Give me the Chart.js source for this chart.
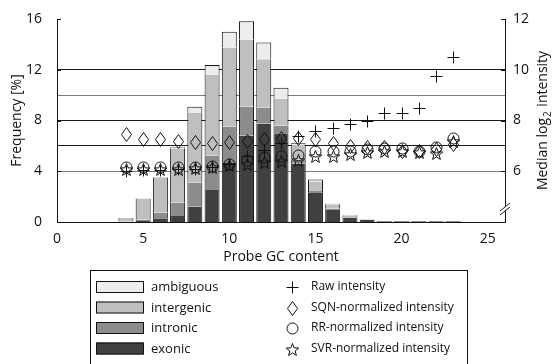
<!DOCTYPE html>
<html>
<head>
<meta charset="utf-8">
<script src="https://cdn.jsdelivr.net/npm/chart.js@4.4.0/dist/chart.umd.min.js"></script>
<style>
  html, body { margin: 0; padding: 0; background: #fff; }
  #wrap { width: 555px; height: 364px; }
</style>
</head>
<body>
<div id="wrap"><canvas id="gcChart" width="555" height="364"></canvas></div>
<script>
/* ---------- Data ---------- */
const gcContent = [4, 5, 6, 7, 8, 9, 10, 11, 12, 13, 14, 15, 16, 17, 18, 19, 20, 21, 22, 23];

// Frequency [%], stacked bottom -> top
const exonic     = [0.02, 0.08, 0.29, 0.48, 1.21, 2.53, 4.65, 6.80, 7.76, 7.00, 4.60, 2.35, 1.00, 0.35, 0.18, 0.06, 0.06, 0.06, 0.06, 0.06];
const intronic   = [0.02, 0.12, 0.45, 1.05, 1.90, 2.70, 2.85, 2.28, 1.24, 0.60, 0.30, 0.10, 0.05, 0.02, 0.01, 0, 0, 0, 0, 0];
const intergenic = [0.28, 1.65, 2.76, 4.27, 5.49, 6.36, 6.26, 5.28, 3.83, 2.12, 1.20, 0.70, 0.30, 0.13, 0.01, 0.005, 0.005, 0.005, 0.005, 0.005];
const ambiguous  = [0.02, 0.03, 0.04, 0.09, 0.48, 0.79, 1.23, 1.46, 1.32, 0.87, 0.10, 0.20, 0.08, 0.05, 0.01, 0.005, 0.005, 0.005, 0.005, 0.005];

// Median log2 intensity
const rawIntensity = [6.00, 6.05, 6.05, 6.10, 6.10, 6.15, 6.30, 6.60, 6.85, 7.10, 7.40, 7.60, 7.70, 7.85, 8.00, 8.30, 8.30, 8.50, 9.75, 10.50];
const sqnIntensity = [7.46, 7.29, 7.29, 7.20, 7.16, 7.13, 7.16, 7.20, 7.26, 7.33, 7.33, 7.26, 7.13, 7.00, 6.94, 6.94, 6.80, 6.80, 6.87, 7.07];
const rrIntensity  = [6.15, 6.15, 6.15, 6.15, 6.15, 6.19, 6.30, 6.45, 6.55, 6.60, 6.65, 6.80, 6.80, 6.80, 6.87, 6.90, 6.90, 6.80, 6.95, 7.33];
const svrIntensity = [6.08, 6.10, 6.10, 6.10, 6.12, 6.15, 6.25, 6.30, 6.35, 6.40, 6.45, 6.60, 6.62, 6.68, 6.75, 6.80, 6.80, 6.75, 6.72, 7.20];

const xTicks = [0, 5, 10, 15, 20, 25];
const freqTicks = [0, 4, 8, 12, 16];
const intensityTicks = [6, 8, 10, 12];

const FONT = "'Open Sans', sans-serif";
const INK = '#111';

/* ---------- Marker drawing (vector, crisp) ---------- */
function drawMarker(ctx, kind, x, y) {
  x = Math.round(x) + 0.5;
  y = Math.round(y) + 0.5;
  ctx.save();
  ctx.strokeStyle = INK;
  ctx.lineWidth = 1;
  ctx.beginPath();
  if (kind === 'cross') {
    ctx.moveTo(x - 6, y); ctx.lineTo(x + 6, y);
    ctx.moveTo(x, y - 6); ctx.lineTo(x, y + 6);
  } else if (kind === 'diamond') {
    ctx.moveTo(x, y - 7); ctx.lineTo(x + 5, y); ctx.lineTo(x, y + 7); ctx.lineTo(x - 5, y);
    ctx.closePath();
  } else if (kind === 'circle') {
    ctx.arc(x, y, 5.5, 0, Math.PI * 2);
  } else if (kind === 'star') {
    for (let i = 0; i < 10; i++) {
      const r = i % 2 ? 2.8 : 6.6;
      const a = -Math.PI / 2 + i * Math.PI / 5;
      const px = x + r * Math.cos(a), py = y + 0.6 + r * Math.sin(a);
      if (i === 0) ctx.moveTo(px, py); else ctx.lineTo(px, py);
    }
    ctx.closePath();
  }
  ctx.stroke();
  ctx.restore();
}

/* ---------- Dataset helpers ---------- */
const toXY = (vals) => gcContent.map((x, i) => ({ x: x, y: vals[i] }));

function barSet(label, vals, color, topEdge) {
  return {
    type: 'bar',
    label: label,
    data: toXY(vals),
    backgroundColor: color,
    borderColor: INK,
    borderWidth: { top: topEdge ? 1 : 0, left: 1, right: 1, bottom: 0 },
    borderSkipped: false,
    barPercentage: 0.87,
    categoryPercentage: 1,
    yAxisID: 'y',
    order: 2
  };
}

function pointSet(label, vals, marker) {
  return {
    type: 'line',
    label: label,
    data: toXY(vals),
    showLine: false,
    marker: marker,
    pointRadius: 0,
    yAxisID: 'y2',
    order: 1
  };
}

const gridColor = (v) => {
  if (v === 6 || v === 9) return '#7a7a7a';
  if (v === 7 || v === 8 || v === 10) return '#1a1a1a';
  return 'rgba(0,0,0,0)';
};

/* ---------- Markers on top of bars ---------- */
const markerPlugin = {
  id: 'markers',
  afterDatasetsDraw(chart) {
    const ctx = chart.ctx;
    chart.data.datasets.forEach((d, i) => {
      if (d.type !== 'line') return;
      chart.getDatasetMeta(i).data.forEach(pt => drawMarker(ctx, d.marker, pt.x, pt.y));
    });
  }
};

/* ---------- Extra drawing: legend, right title, axis break ---------- */
const extrasPlugin = {
  id: 'extras',
  afterDraw(chart) {
    const ctx = chart.ctx;
    const area = chart.chartArea;
    const yL = chart.scales.y;
    const yR = chart.scales.y2;
    ctx.save();

    // small inward tick marks
    ctx.strokeStyle = INK;
    ctx.lineWidth = 1;
    ctx.beginPath();
    freqTicks.forEach(v => {
      const py = Math.round(yL.getPixelForValue(v)) + 0.5;
      ctx.moveTo(area.left, py); ctx.lineTo(area.left + 4, py);
    });
    intensityTicks.forEach(v => {
      const py = Math.round(yR.getPixelForValue(v)) + 0.5;
      ctx.moveTo(area.right - 4, py); ctx.lineTo(area.right, py);
    });
    ctx.stroke();

    // axis break on the right axis
    const bx = area.right;
    const by = area.bottom - 13;
    ctx.fillStyle = '#fff';
    ctx.fillRect(bx - 2, by - 2, 4, 4);
    ctx.beginPath();
    ctx.moveTo(bx - 5, by + 2); ctx.lineTo(bx + 5, by - 6);
    ctx.moveTo(bx - 5, by + 6); ctx.lineTo(bx + 5, by - 2);
    ctx.stroke();

    // right axis title (reads bottom to top)
    ctx.fillStyle = INK;
    ctx.translate(543, (area.top + area.bottom) / 2);
    ctx.rotate(-Math.PI / 2);
    ctx.textBaseline = 'middle';
    ctx.textAlign = 'left';
    const big = '14px ' + FONT, small = '10px ' + FONT;
    ctx.font = big;
    const w1 = ctx.measureText('Median log').width;
    const w3 = ctx.measureText(' intensity').width;
    ctx.font = small;
    const w2 = ctx.measureText('2').width + 2;
    const sx = -(w1 + w2 + w3) / 2;
    ctx.font = big;
    ctx.fillText('Median log', sx, 0);
    ctx.font = small;
    ctx.fillText('2', sx + w1 + 1, 5);
    ctx.font = big;
    ctx.fillText(' intensity', sx + w1 + w2, 0);
    ctx.restore();

    // legend box
    ctx.save();
    ctx.strokeStyle = INK;
    ctx.lineWidth = 1;
    ctx.strokeRect(90.5, 270.5, 377, 100);
    const rows = [287, 307.5, 328, 348.5];
    const sets = chart.data.datasets;
    const barSets = sets.filter(d => d.type === 'bar').slice().reverse();
    const ptSets = sets.filter(d => d.type === 'line');
    ctx.textBaseline = 'middle';
    ctx.textAlign = 'left';
    barSets.forEach((d, i) => {
      const y = rows[i];
      ctx.fillStyle = d.backgroundColor;
      ctx.fillRect(96, y - 6, 48, 12);
      ctx.strokeRect(96.5, y - 5.5, 47, 11);
      ctx.fillStyle = INK;
      ctx.font = '13px ' + FONT;
      ctx.fillText(d.label, 151, y + 0.5);
    });
    ptSets.forEach((d, i) => {
      const y = rows[i];
      drawMarker(ctx, d.marker, 292, y);
      ctx.fillStyle = INK;
      ctx.font = '12px ' + FONT;
      ctx.fillText(d.label, 311, y);
    });
    ctx.restore();
  }
};

/* ---------- Chart ---------- */
Chart.defaults.font.family = FONT;
Chart.defaults.font.size = 14;
Chart.defaults.color = INK;

new Chart(document.getElementById('gcChart'), {
  type: 'bar',
  data: {
    datasets: [
      pointSet('Raw intensity', rawIntensity, 'cross'),
      pointSet('SQN-normalized intensity', sqnIntensity, 'diamond'),
      pointSet('RR-normalized intensity', rrIntensity, 'circle'),
      pointSet('SVR-normalized intensity', svrIntensity, 'star'),
      barSet('exonic', exonic, '#404040', false),
      barSet('intronic', intronic, '#8c8c8c', false),
      barSet('intergenic', intergenic, '#bfbfbf', false),
      barSet('ambiguous', ambiguous, '#ededed', true)
    ]
  },
  options: {
    responsive: false,
    animation: false,
    events: [],
    layout: { padding: { top: 19, bottom: 98, left: 0, right: 0 } },
    plugins: {
      legend: { display: false },
      tooltip: { enabled: false }
    },
    scales: {
      x: {
        type: 'linear',
        min: 0,
        max: 26,
        offset: false,
        stacked: true,
        grid: { display: false, offset: false },
        border: { color: INK, width: 1 },
        ticks: {
          stepSize: 5,
          includeBounds: false,
          padding: 1,
          maxRotation: 0,
          callback: v => xTicks.includes(v) ? v : null
        },
        title: { display: true, text: 'Probe GC content', padding: { top: 0, bottom: 1 } },
        afterFit: s => { s.height = 44; }
      },
      y: {
        position: 'left',
        min: 0,
        max: 16,
        stacked: true,
        grid: { display: false },
        border: { color: INK, width: 1 },
        ticks: { stepSize: 4, padding: 7 },
        title: { display: true, text: 'Frequency [%]', padding: { top: 9, bottom: 0 } },
        afterFit: s => { s.width = 57; }
      },
      y2: {
        position: 'right',
        min: 4,
        max: 12,
        grid: {
          drawTicks: false,
          color: c => gridColor(c.tick ? c.tick.value : null),
          lineWidth: 1
        },
        border: { color: INK, width: 1 },
        ticks: {
          stepSize: 1,
          padding: 8,
          callback: v => intensityTicks.includes(v) ? v : ''
        },
        afterFit: s => { s.width = 50; }
      }
    }
  },
  plugins: [markerPlugin, extrasPlugin]
});
</script>
</body>
</html>
